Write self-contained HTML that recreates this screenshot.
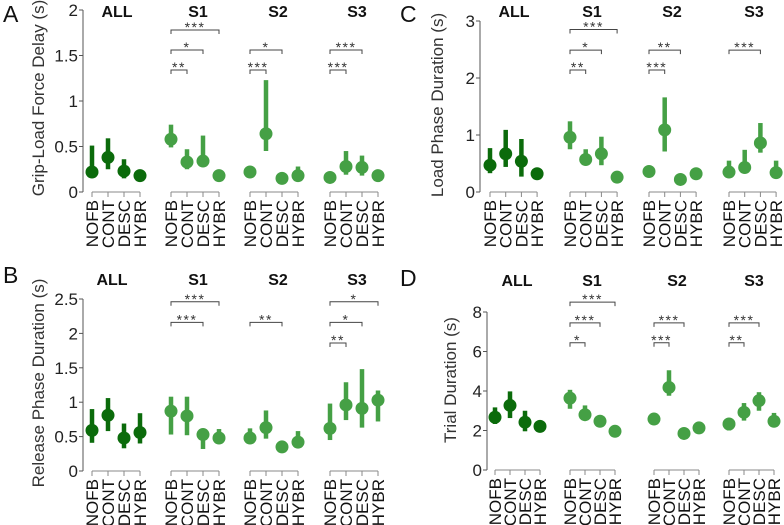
<!DOCTYPE html>
<html><head><meta charset="utf-8"><style>
html,body{margin:0;padding:0;background:#fff;}
svg{display:block;font-family:"Liberation Sans",sans-serif;}
</style></head><body>
<svg id="chart" width="784" height="525" viewBox="0 0 784 525" xmlns="http://www.w3.org/2000/svg"></svg>
<script>
// ---- data ----
const categories = ["NOFB","CONT","DESC","HYBR"];
const groups = ["ALL","S1","S2","S3"];
// Panel A: Grip-Load Force Delay
const medA  = [0.22,0.38,0.23,0.18, 0.58,0.33,0.34,0.18, 0.22,0.64,0.15,0.18, 0.16,0.28,0.27,0.18];
const lowA  = [0.175,0.25,0.15,0.18, 0.49,0.25,0.28,0.18, 0.22,0.45,0.15,0.12, 0.16,0.19,0.18,0.18];
const highA = [0.51,0.59,0.36,0.18, 0.74,0.47,0.62,0.18, 0.22,1.23,0.15,0.28, 0.16,0.45,0.40,0.18];
const sigA  = [[1,0,3,1.78,"***"],[1,0,2,1.56,"*"],[1,0,1,1.34,"**"],[2,0,2,1.56,"*"],[2,0,1,1.34,"***"],[3,0,2,1.56,"***"],[3,0,1,1.34,"***"]];
const ticksA = [0,0.5,1,1.5,2];
const tickLabelsA = ["0","0.5","1","1.5","2"];
// Panel B: Release Phase Duration
const medB  = [0.59,0.81,0.48,0.56, 0.87,0.80,0.53,0.48, 0.48,0.63,0.35,0.42, 0.62,0.96,0.91,1.03];
const lowB  = [0.41,0.58,0.33,0.40, 0.53,0.52,0.32,0.42, 0.42,0.47,0.35,0.37, 0.45,0.74,0.63,0.72];
const highB = [0.90,1.06,0.69,0.84, 1.08,1.08,0.59,0.61, 0.62,0.88,0.35,0.58, 0.98,1.29,1.48,1.17];
const sigB  = [[1,0,3,2.46,"***"],[1,0,2,2.16,"***"],[2,0,2,2.16,"**"],[3,0,3,2.46,"*"],[3,0,2,2.16,"*"],[3,0,1,1.86,"**"]];
const ticksB = [0,0.5,1,1.5,2,2.5];
const tickLabelsB = ["0","0.5","1","1.5","2","2.5"];
// Panel C: Load Phase Duration
const medC  = [0.47,0.67,0.54,0.32, 0.96,0.57,0.67,0.26, 0.36,1.09,0.22,0.32, 0.35,0.43,0.86,0.34];
const lowC  = [0.33,0.44,0.27,0.32, 0.75,0.47,0.47,0.19, 0.36,0.71,0.22,0.32, 0.29,0.33,0.69,0.27];
const highC = [0.77,1.09,0.93,0.32, 1.24,0.75,0.97,0.34, 0.36,1.66,0.22,0.32, 0.55,0.74,1.21,0.55];
const sigC  = [[1,0,3,2.85,"***"],[1,0,2,2.49,"*"],[1,0,1,2.14,"**"],[2,0,2,2.49,"**"],[2,0,1,2.14,"***"],[3,0,2,2.49,"***"]];
const ticksC = [0,1,2,3];
const tickLabelsC = ["0","1","2","3"];
// Panel D: Trial Duration
const medD  = [2.67,3.27,2.42,2.21, 3.64,2.80,2.47,1.96, 2.58,4.18,1.85,2.13, 2.33,2.92,3.51,2.47];
const lowD  = [2.33,2.63,1.96,2.21, 3.10,2.55,2.47,1.96, 2.58,3.76,1.85,1.93, 2.00,2.50,3.00,2.25];
const highD = [3.17,3.98,3.00,2.21, 4.06,3.27,2.47,1.96, 2.58,5.05,1.85,2.43, 2.63,3.39,3.94,2.89];
const sigD  = [[1,0,3,8.5,"***"],[1,0,2,7.45,"***"],[1,0,1,6.44,"*"],[2,0,2,7.45,"***"],[2,0,1,6.44,"***"],[3,0,2,7.45,"***"],[3,0,1,6.44,"**"]];
const ticksD = [0,2,4,6,8];
const tickLabelsD = ["0","2","4","6","8"];

// ---- layout ----
const NS="http://www.w3.org/2000/svg";
const svg=document.getElementById('chart');
function mk(tag,attrs,parent){const e=document.createElementNS(NS,tag);for(const k in attrs)e.setAttribute(k,attrs[k]);(parent||svg).appendChild(e);return e;}
const DARK="#0b6b0b", LIGHT="#45a045";
const panels=[
 {id:"a",letter:"A",lx:3,ly:22,ylabel:"Grip-Load Force Delay (s)",ylx:44,yly:98,axisX:83,y0:192,ymax:2,ytop:10,gx:[92,171,250,330],step:16,titleY:17,titleX:[117,198,278,357],med:medA,low:lowA,high:highA,sig:sigA,ticks:ticksA,tl:tickLabelsA},
 {id:"b",letter:"B",lx:3,ly:283,ylabel:"Release Phase Duration (s)",ylx:44,yly:383,axisX:83,y0:471,ymax:2.5,ytop:299,gx:[92,171,250,330],step:16,titleY:285,titleX:[112,198,278,357],med:medB,low:lowB,high:highB,sig:sigB,ticks:ticksB,tl:tickLabelsB},
 {id:"c",letter:"C",lx:400,ly:22,ylabel:"Load Phase Duration (s)",ylx:443,yly:105,axisX:480,y0:192,ymax:3,ytop:21,gx:[490,570,649,729],step:15.7,titleY:17,titleX:[514,592,672,754],med:medC,low:lowC,high:highC,sig:sigC,ticks:ticksC,tl:tickLabelsC},
 {id:"d",letter:"D",lx:400,ly:286,ylabel:"Trial Duration (s)",ylx:456,yly:380,axisX:487,y0:470,ymax:8,ytop:312,gx:[495,570,654,729],step:15,titleY:286,titleX:[517,592,677,754],med:medD,low:lowD,high:highD,sig:sigD,ticks:ticksD,tl:tickLabelsD}
];
panels.forEach(p=>{
 const g=mk('g',{});
 
 
 const ys=v=>p.y0-(v/p.ymax)*(p.y0-p.ytop);
 const xs=(gi,ci)=>p.gx[gi]+ci*p.step;
 const L=mk('text',{x:p.lx,y:p.ly,'font-size':23,fill:'#111'},g);L.textContent=p.letter;
 
 
 const yl=mk('text',{x:p.ylx,y:p.yly,'font-size':17,fill:'#333','text-anchor':'middle',transform:`rotate(-90 ${p.ylx} ${p.yly})`},g);yl.textContent=p.ylabel;
 
 
 const ax=mk('line',{x1:p.axisX,x2:p.axisX,y1:ys(p.ymax),y2:p.y0,stroke:'#555','stroke-width':1},g);
 
 
 p.ticks.forEach((t,i)=>{
  mk('line',{x1:p.axisX-4,x2:p.axisX,y1:ys(t),y2:ys(t),stroke:'#555'},g);
  const tt=mk('text',{x:p.axisX-5,y:ys(t)+6,'font-size':17,fill:'#222','text-anchor':'end'},g);tt.textContent=p.tl[i];
  
  
 });
 groups.forEach((gn,gi)=>{
  const ti=mk('text',{x:p.titleX[gi],y:p.titleY,'font-size':16,'font-weight':'bold',fill:'#111','text-anchor':'middle'},g);ti.textContent=gn;
  
  
  const xl=mk('line',{x1:xs(gi,0),x2:xs(gi,3),y1:p.y0,y2:p.y0,stroke:'#888'},g);
  
  
  const col=gi===0?DARK:LIGHT;
  categories.forEach((c,ci)=>{
   const x=xs(gi,ci);
   mk('line',{x1:x,x2:x,y1:p.y0,y2:p.y0+5,stroke:'#888'},g);
   const lb=mk('text',{x:0,y:0,'font-size':17,fill:'#111','text-anchor':'end',transform:`translate(${x+6},${p.y0+8}) rotate(-90)`},g);lb.textContent=c;
   
   
   const k=gi*4+ci;
   const bar=mk('line',{x1:x,x2:x,y1:ys(p.low[k]),y2:ys(p.high[k]),stroke:col,'stroke-width':4.5},g);
   
   
   const dot=mk('circle',{cx:x,cy:ys(p.med[k]),r:6.5,fill:col},g);
   
   
  });
 });
 p.sig.forEach(s=>{
  const x1=xs(s[0],s[1]),x2=xs(s[0],s[2]),y=ys(s[3]);
  const br=mk('path',{d:`M${x1},${y+4}V${y}H${x2}V${y+4}`,fill:'none',stroke:'#444','stroke-width':1},g);
  
  
  const st=mk('text',{x:(x1+x2)/2,y:y+2,'font-size':14,fill:'#333','text-anchor':'middle','letter-spacing':'1.5'},g);st.textContent=s[4];
  
  
 });
});
</script>
</body></html>
